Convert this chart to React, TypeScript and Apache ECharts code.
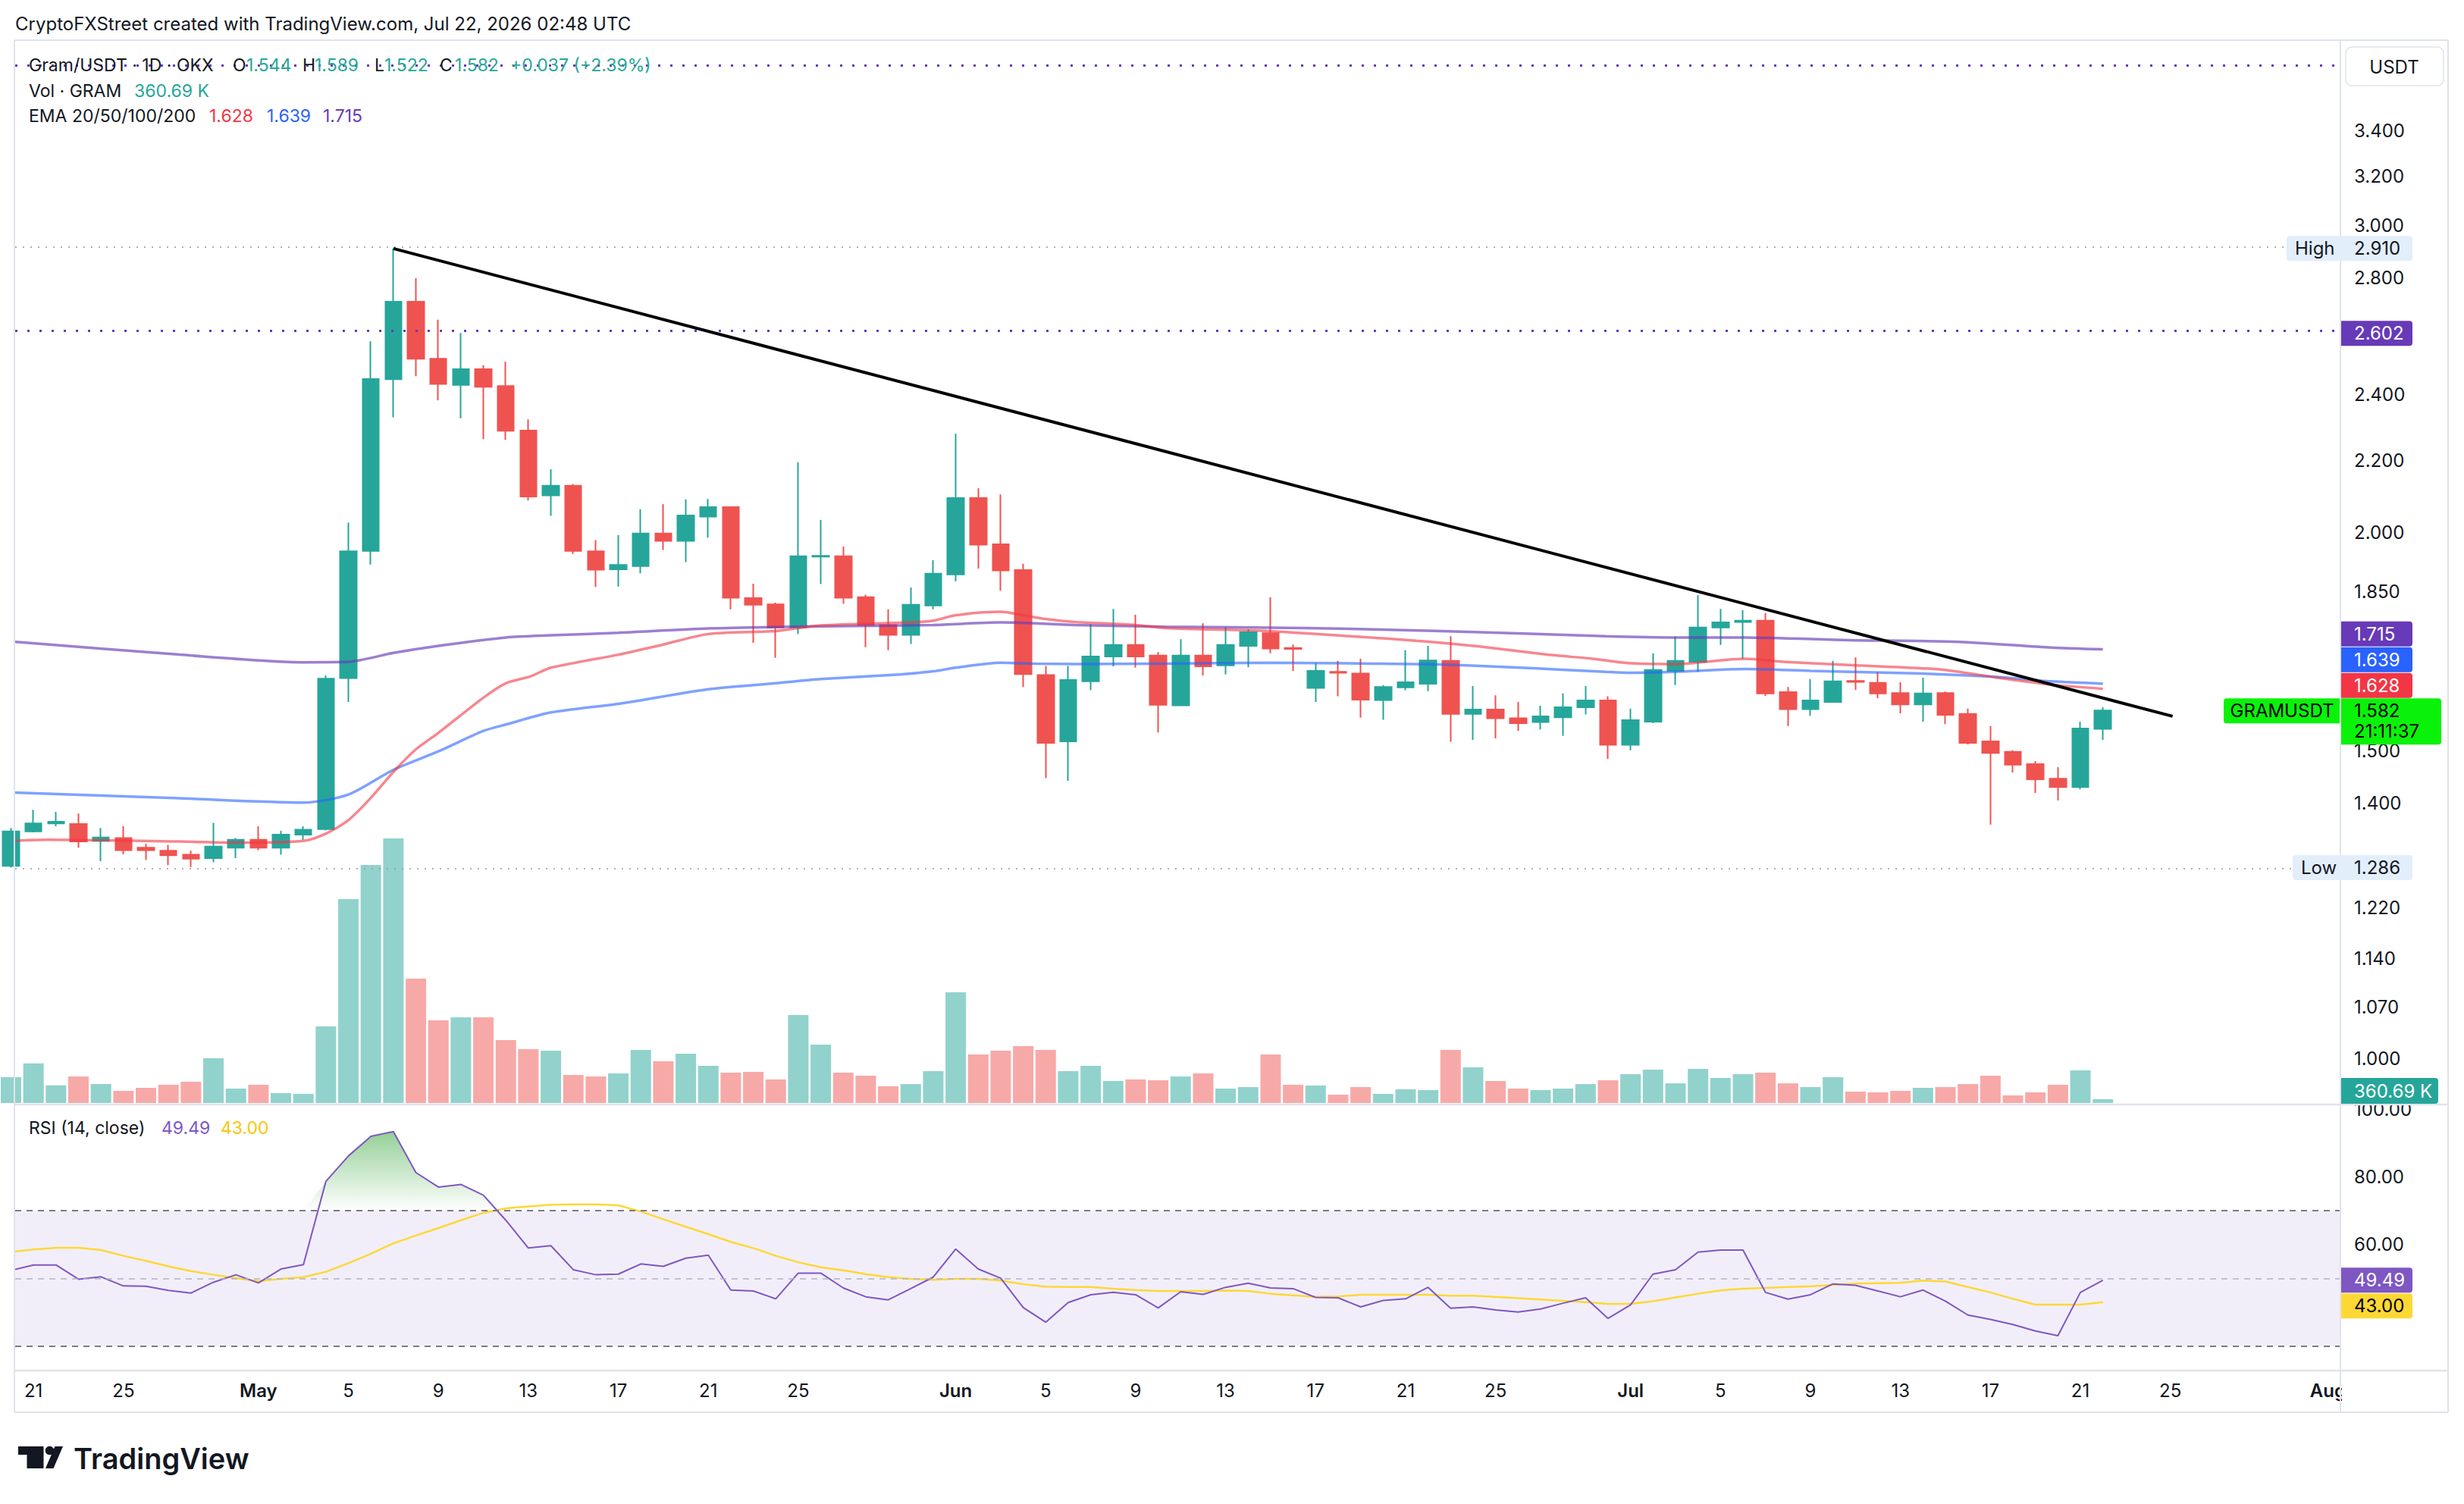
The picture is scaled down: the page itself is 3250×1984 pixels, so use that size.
import React, { useEffect, useRef } from "react";
import * as echarts from "echarts";

// ---------- DATA ----------
const startDate = "2026-04-20"; // first (partly visible) daily candle
const opens = [1.289,1.349,1.363,1.362,1.332,1.337,1.320,1.315,1.308,1.302,
1.320,1.334,1.320,1.343,1.353,1.651,1.953,2.449,2.713,2.516,
2.431,2.482,2.427,2.289,2.101,2.128,1.952,1.906,1.914,1.998,
1.979,2.043,2.069,1.835,1.820,1.765,1.938,1.939,1.837,1.771,
1.748,1.817,1.893,2.094,1.970,1.904,1.658,1.519,1.644,1.699,
1.725,1.701,1.593,1.701,1.679,1.723,1.752,1.718,1.630,1.665,
1.661,1.604,1.631,1.639,1.689,1.575,1.584,1.566,1.558,1.568,
1.589,1.603,1.512,1.559,1.667,1.687,1.765,1.778,1.781,1.621,
1.585,1.600,1.645,1.641,1.619,1.595,1.619,1.575,1.519,1.498,
1.474,1.446,1.430,1.544];
const highs = [1.355,1.388,1.384,1.381,1.355,1.358,1.327,1.325,1.315,1.364,
1.337,1.358,1.350,1.358,1.657,2.027,2.575,2.910,2.798,2.649,
2.603,2.495,2.506,2.323,2.175,2.133,1.981,1.994,2.063,2.077,
2.090,2.091,2.069,1.870,1.824,2.195,2.034,1.964,1.843,1.808,
1.861,1.929,2.279,2.121,2.104,1.920,1.678,1.678,1.773,1.809,
1.795,1.709,1.738,1.775,1.766,1.761,1.837,1.726,1.684,1.689,
1.694,1.636,1.713,1.723,1.745,1.634,1.614,1.600,1.592,1.618,
1.634,1.612,1.586,1.706,1.744,1.842,1.809,1.806,1.799,1.632,
1.649,1.689,1.697,1.664,1.642,1.652,1.622,1.586,1.550,1.501,
1.480,1.468,1.559,1.589];
const lows = [1.286,1.347,1.358,1.320,1.297,1.309,1.299,1.290,1.287,1.295,
1.302,1.316,1.308,1.334,1.351,1.600,1.918,2.329,2.459,2.382,
2.326,2.263,2.261,2.087,2.045,1.945,1.862,1.863,1.896,1.955,
1.924,1.987,1.808,1.730,1.696,1.750,1.869,1.821,1.720,1.713,
1.727,1.808,1.876,1.908,1.853,1.632,1.447,1.442,1.625,1.677,
1.674,1.537,1.593,1.657,1.659,1.675,1.706,1.667,1.600,1.612,
1.567,1.563,1.625,1.623,1.518,1.522,1.525,1.540,1.543,1.530,
1.574,1.484,1.501,1.556,1.636,1.665,1.725,1.694,1.613,1.550,
1.571,1.599,1.626,1.608,1.576,1.559,1.554,1.513,1.361,1.458,
1.419,1.405,1.426,1.522];
const closes = [1.349,1.363,1.366,1.331,1.338,1.316,1.316,1.307,1.301,1.322,
1.334,1.320,1.343,1.352,1.650,1.952,2.450,2.713,2.516,2.434,
2.482,2.425,2.288,2.098,2.128,1.953,1.905,1.917,1.998,1.979,
2.046,2.069,1.836,1.819,1.765,1.939,1.940,1.836,1.771,1.748,
1.819,1.895,2.094,1.969,1.903,1.660,1.516,1.647,1.699,1.725,
1.699,1.594,1.701,1.677,1.725,1.754,1.717,1.716,1.667,1.663,
1.605,1.632,1.642,1.690,1.575,1.584,1.566,1.556,1.570,1.589,
1.603,1.512,1.562,1.669,1.689,1.765,1.777,1.781,1.618,1.585,
1.603,1.644,1.643,1.618,1.595,1.618,1.573,1.516,1.496,1.473,
1.445,1.430,1.545,1.582];
// volume in thousands of GRAM
const volumesK = [2450,3770,1680,2520,1800,1150,1440,1730,2020,4250,
1370,1730,940,870,7280,19400,22640,25160,11820,7860,
8150,8150,5980,5120,4970,2670,2520,2810,5050,3970,
4690,3530,2880,2960,2240,8360,5550,2880,2600,1590,
1800,3030,10530,4610,4970,5410,5050,3030,3530,2090,
2240,2160,2520,2810,1370,1510,4610,1730,1660,790,
1510,870,1300,1230,5050,3390,2090,1370,1230,1370,
1800,2160,2740,3170,1870,3240,2380,2740,2880,1870,
1510,2450,1080,1010,1150,1440,1510,1800,2600,720,
1010,1730,3100,360.69];
// EMA lines: [day offset from startDate, value]
const ema20Pts = [[0,1.332],[1.6,1.334],[7.5,1.331],[10.3,1.329],[13,1.332],[14,1.345],[15,1.369],[16,1.410],[17,1.459],[18,1.503],[19,1.536],[21,1.609],[22,1.640],[23.1,1.655],[24,1.674],[27,1.703],[29,1.726],[31,1.750],[34,1.757],[36,1.770],[40,1.777],[41,1.781],[42,1.794],[44,1.802],[45,1.794],[46,1.785],[47.3,1.778],[49.8,1.772],[51.3,1.764],[55.9,1.757],[59.8,1.744],[62.9,1.733],[65.2,1.722],[68.3,1.703],[70.3,1.694],[71.9,1.684],[74,1.682],[77.1,1.694],[78.8,1.687],[81.7,1.680],[85.8,1.670],[88.2,1.653],[90.7,1.637],[93,1.628]];
const ema50Pts = [[0,1.420],[7.5,1.409],[13,1.401],[15,1.416],[17,1.463],[19,1.499],[21,1.540],[22,1.553],[24,1.578],[27,1.596],[31,1.627],[34,1.640],[36,1.649],[39.5,1.659],[41,1.666],[42,1.674],[44,1.685],[45.6,1.683],[47.3,1.682],[51.3,1.683],[55.9,1.685],[60.6,1.683],[63.6,1.681],[66.7,1.675],[70.9,1.665],[71.9,1.663],[74,1.665],[77.1,1.671],[80,1.667],[85,1.661],[88.2,1.654],[90.7,1.644],[93,1.639]];
const ema100Pts = [[0,1.733],[7.5,1.703],[13,1.686],[15,1.687],[17,1.707],[19,1.723],[22,1.742],[24,1.747],[27,1.753],[31,1.763],[36,1.768],[41,1.771],[44,1.777],[47.3,1.771],[51.3,1.767],[57.5,1.764],[63.6,1.757],[70.9,1.745],[74,1.742],[77.1,1.742],[81.7,1.736],[86.6,1.732],[90.7,1.719],[93,1.715]];
const rsiValues = [52.4,54.0,54.0,49.8,50.5,47.8,47.7,46.5,45.7,48.9,
51.1,48.7,52.8,54.1,78.7,86.2,92.0,93.4,81.3,77.0,
77.8,74.6,67.2,59.0,59.7,52.6,51.1,51.3,54.3,53.6,
56.0,56.9,46.6,46.3,44.0,51.6,51.6,47.2,44.6,43.7,
47.0,50.4,58.7,52.8,50.1,41.4,37.1,42.9,45.2,45.9,
45.2,41.3,46.1,45.3,47.4,48.6,47.2,47.0,44.4,44.3,
41.6,43.5,44.0,47.4,41.2,41.6,40.7,40.1,41.0,42.7,
44.3,38.2,42.2,51.3,52.6,57.8,58.4,58.4,45.9,43.9,
45.2,48.4,48.0,46.3,44.6,46.6,43.3,39.2,37.9,36.4,
34.5,33.1,45.9,49.49];
const rsiMaValues = [57.8,58.6,59.1,59.1,58.4,56.7,55.2,53.6,52.2,51.1,
50.1,49.2,49.9,50.4,52.0,54.5,57.3,60.4,62.7,64.9,
67.2,69.4,70.7,71.3,71.8,71.9,71.9,71.6,69.8,67.5,
65.3,63.1,60.8,59.0,56.7,54.8,53.3,52.4,51.3,50.4,
49.9,49.6,49.9,49.9,49.4,48.3,47.6,47.5,47.5,47.0,
46.6,46.3,46.3,46.3,46.4,46.3,45.5,45.0,44.6,44.7,
45.2,45.2,45.2,45.2,44.9,44.9,44.6,44.2,43.8,43.4,
43.0,42.5,42.5,43.3,44.4,45.5,46.5,47.0,47.2,47.5,
47.7,48.1,48.5,48.6,48.7,49.4,49.1,47.5,45.9,44.0,
42.3,42.3,42.3,43.0];
const trendDays = [17, 96.1];
const trendPrices = [2.91, 1.57];
const highLevel = 2.91;
const lowLevel = 1.286;
const drawnLevels = [2.602, 3.69];
const priceTicks = [3.4, 3.2, 3.0, 2.8, 2.4, 2.2, 2.0, 1.85, 1.5, 1.4, 1.22, 1.14, 1.07, 1.0];
const rsiTicks = [100, 80, 60];
const xTickDates = ["2026-04-21","2026-04-25","2026-05-01","2026-05-05","2026-05-09","2026-05-13","2026-05-17","2026-05-21","2026-05-25","2026-06-01","2026-06-05","2026-06-09","2026-06-13","2026-06-17","2026-06-21","2026-06-25","2026-07-01","2026-07-05","2026-07-09","2026-07-13","2026-07-17","2026-07-21","2026-07-25","2026-08-01"];
const monthNames = ["Jan","Feb","Mar","Apr","May","Jun","Jul","Aug","Sep","Oct","Nov","Dec"];

// ---------- STYLE / LAYOUT ----------
const FONT = 'Inter, "Noto Sans", sans-serif';
const UP = "#26a69a";
const DOWN = "#ef5350";
const TXT = "#131722";
const xMin = 0.185;
const xMax = 103.56;
const lnMin = -0.061;
const lnMax = 1.343;

const dayIdx = (d: string) => Math.round((Date.parse(d) - Date.parse(startDate)) / 86400000);
const xTickIdx = xTickDates.map(dayIdx);
const tickLabel = (v: number) => {
  const k = xTickIdx.findIndex((t) => Math.abs(t - v) < 0.01);
  if (k < 0) return "";
  const dt = new Date(Date.parse(xTickDates[k]));
  const day = dt.getUTCDate();
  return day === 1 ? "{m|" + monthNames[dt.getUTCMonth()] + "}" : String(day);
};

function buildOption() {
  const L = Math.log;
  const candleData = opens.map((o, i) => [i, L(o), L(closes[i]), L(lows[i]), L(highs[i])]);
  const volData = volumesK.map((v, i) => ({
    value: [i, v],
    itemStyle: { color: closes[i] >= opens[i] ? "rgba(38,166,154,0.5)" : "rgba(239,83,80,0.5)" },
  }));
  const emaLine = (pts: number[][], color: string) => ({
    type: "line",
    xAxisIndex: 0,
    yAxisIndex: 0,
    data: pts.map(([x, v]) => [x, L(v)]),
    showSymbol: false,
    smooth: 0.25,
    lineStyle: { color, width: 3.5 },
    z: 4,
    silent: true,
  });
  const axisFont = { fontFamily: FONT, fontSize: 24, color: TXT };
  return {
    animation: false,
    backgroundColor: "#ffffff",
    grid: [
      { left: 20, top: 53, width: 3067, height: 1404, containLabel: false, outerBoundsMode: "none" },
      { left: 20, top: 1106, width: 3067, height: 349, containLabel: false, outerBoundsMode: "none" },
      { left: 20, top: 1457, width: 3067, height: 351, containLabel: false, outerBoundsMode: "none" },
    ],
    xAxis: [0, 1, 2].map((g) => ({
      type: "value",
      gridIndex: g,
      min: xMin,
      max: xMax,
      show: g === 2,
      axisLine: { show: false },
      axisTick: { show: false },
      splitLine: { show: false },
      axisLabel: {
        show: g === 2,
        customValues: xTickIdx,
        formatter: tickLabel,
        margin: 14,
        ...axisFont,
        rich: { m: { fontFamily: FONT, fontSize: 24, fontWeight: 600, color: TXT } },
      },
    })),
    yAxis: [
      {
        type: "value",
        gridIndex: 0,
        position: "right",
        min: lnMin,
        max: lnMax,
        axisLine: { show: false },
        axisTick: { show: false },
        splitLine: { show: false },
        axisLabel: {
          customValues: priceTicks.map((p) => Math.log(p)),
          formatter: (v: number) => Math.exp(v).toFixed(3),
          margin: 18,
          align: "left",
          ...axisFont,
        },
      },
      {
        type: "value",
        gridIndex: 1,
        min: 0,
        max: Math.max(...volumesK),
        show: false,
        splitLine: { show: false },
      },
      {
        type: "value",
        gridIndex: 2,
        position: "right",
        min: 22.8,
        max: 101.4,
        axisLine: { show: false },
        axisTick: { show: false },
        splitLine: { show: false },
        axisLabel: {
          customValues: rsiTicks,
          formatter: (v: number) => v.toFixed(2),
          margin: 18,
          align: "left",
          ...axisFont,
        },
      },
    ],
    series: [
      {
        type: "bar",
        name: "Volume",
        xAxisIndex: 1,
        yAxisIndex: 1,
        data: volData,
        barWidth: 27,
        z: 1,
        silent: true,
      },
      {
        type: "candlestick",
        name: "GRAMUSDT",
        xAxisIndex: 0,
        yAxisIndex: 0,
        data: candleData,
        encode: { x: 0, y: [1, 2, 3, 4] },
        barWidth: 22,
        clip: true,
        itemStyle: { color: UP, color0: DOWN, borderColor: UP, borderColor0: DOWN, borderWidth: 2 },
        z: 3,
        silent: true,
        markLine: {
          symbol: ["none", "none"],
          silent: true,
          label: { show: false },
          data: [
            { yAxis: L(highLevel), lineStyle: { color: "#9598a1", width: 1.5, type: [2, 8] } },
            { yAxis: L(lowLevel), lineStyle: { color: "#9598a1", width: 1.5, type: [2, 8] } },
            ...drawnLevels.map((p) => ({ yAxis: L(p), lineStyle: { color: "#673ab7", width: 3, type: [3, 13] } })),
          ],
        },
      },
      emaLine(ema100Pts, "rgba(103,58,183,0.65)"),
      emaLine(ema50Pts, "rgba(41,98,255,0.6)"),
      emaLine(ema20Pts, "rgba(242,54,69,0.6)"),
      {
        type: "line",
        name: "Trendline",
        xAxisIndex: 0,
        yAxisIndex: 0,
        data: trendDays.map((d, i) => [d, L(trendPrices[i])]),
        showSymbol: false,
        lineStyle: { color: "#000000", width: 4 },
        z: 6,
        silent: true,
      },
      {
        type: "line",
        name: "RSI fill",
        xAxisIndex: 2,
        yAxisIndex: 2,
        data: rsiValues.map((v, i) => [i, Math.max(v, 70)]),
        showSymbol: false,
        lineStyle: { opacity: 0, width: 0 },
        areaStyle: {
          origin: 70,
          color: new echarts.graphic.LinearGradient(0, 0, 0, 1, [
            { offset: 0, color: "rgba(76,175,80,0.85)" },
            { offset: 1, color: "rgba(76,175,80,0)" },
          ]),
        },
        z: 2,
        silent: true,
      },
      {
        type: "line",
        name: "RSI",
        xAxisIndex: 2,
        yAxisIndex: 2,
        data: rsiValues.map((v, i) => [i, v]),
        showSymbol: false,
        lineStyle: { color: "#7e57c2", width: 2 },
        z: 4,
        silent: true,
        markArea: {
          silent: true,
          itemStyle: { color: "rgba(126,87,194,0.1)" },
          data: [[{ yAxis: 30 }, { yAxis: 70 }]],
        },
        markLine: {
          symbol: ["none", "none"],
          silent: true,
          label: { show: false },
          data: [
            { yAxis: 70, lineStyle: { color: "#787b86", width: 2, type: [8, 7] } },
            { yAxis: 50, lineStyle: { color: "#b2b5be", width: 1.5, type: [8, 7] } },
            { yAxis: 30, lineStyle: { color: "#787b86", width: 2, type: [8, 7] } },
          ],
        },
      },
      {
        type: "line",
        name: "RSI MA",
        xAxisIndex: 2,
        yAxisIndex: 2,
        data: rsiMaValues.map((v, i) => [i, v]),
        showSymbol: false,
        lineStyle: { color: "#fdd835", width: 2.5 },
        z: 3,
        silent: true,
      },
    ],
  };
}

function T(x: number, y: number, text: string, fill: string, o: any = {}) {
  const align = o.align ?? "left";
  return {
    type: "text",
    x,
    y,
    z: 110,
    silent: true,
    style: {
      text,
      fill,
      fontSize: o.size ?? 23,
      fontFamily: FONT,
      fontWeight: o.weight ?? "normal",
      textAlign: align,
      textVerticalAlign: "middle",
      align,
      verticalAlign: "middle",
    },
  };
}
function R(x: number, y: number, w: number, h: number, fill: string, o: any = {}) {
  return {
    type: "rect",
    z: o.z ?? 105,
    silent: true,
    shape: { x, y, width: w, height: h, r: o.r ?? [0, 4, 4, 0] },
    style: { fill, stroke: o.stroke, lineWidth: o.lw ?? 0 },
  };
}
function Ln(x1: number, y1: number, x2: number, y2: number, w = 2) {
  return { type: "line", z: 100, silent: true, shape: { x1, y1, x2, y2 }, style: { stroke: "#e0e3eb", lineWidth: w } };
}

function buildGraphics(py: (p: number) => number, ry: (v: number) => number) {
  const BH = 33;
  const AX = 3088;
  const LX = 3105;
  const last = closes[closes.length - 1];
  const lastC = py(last);
  const lastChg = last - closes[closes.length - 2];
  const els: any[] = [];
  // frame & separators
  els.push(R(3089, 1810, 139, 52, "#ffffff", { z: 99, r: 0 }));
  els.push(Ln(19, 53, 3229, 53), Ln(19, 53, 19, 1863), Ln(3229, 53, 3229, 1863), Ln(19, 1863, 3229, 1863));
  els.push(Ln(3087, 53, 3087, 1863), Ln(19, 1457, 3229, 1457, 2.5), Ln(19, 1808, 3229, 1808, 2.5));
  // header
  els.push(T(20, 31, "CryptoFXStreet created with TradingView.com, Jul 22, 2026 02:48 UTC", TXT, { size: 24 }));
  // legends
  els.push(T(38, 86, "Gram/USDT · 1D · OKX", TXT));
  els.push(T(307, 86, "O", TXT), T(325, 86, opens[opens.length - 1].toFixed(3), UP));
  els.push(T(399, 86, "H", TXT), T(415, 86, highs[highs.length - 1].toFixed(3), UP));
  els.push(T(494, 86, "L", TXT), T(507, 86, lows[lows.length - 1].toFixed(3), UP));
  els.push(T(580, 86, "C", TXT), T(600, 86, last.toFixed(3), UP));
  els.push(T(673, 86, "+" + lastChg.toFixed(3) + " (+" + ((lastChg / closes[closes.length - 2]) * 100).toFixed(2) + "%)", UP));
  els.push(T(38, 120, "Vol · GRAM", TXT), T(177, 120, "360.69 K", UP));
  els.push(T(38, 153, "EMA 20/50/100/200", TXT));
  els.push(T(276, 153, "1.628", "#f23645"), T(352, 153, "1.639", "#2962ff"), T(426, 153, "1.715", "#673ab7"));
  els.push(T(38, 1488, "RSI (14, close)", TXT));
  els.push(T(213, 1488, rsiValues[rsiValues.length - 1].toFixed(2), "#7e57c2"));
  els.push(T(291, 1488, rsiMaValues[rsiMaValues.length - 1].toFixed(2), "#f9c60c"));
  // USDT box
  els.push(R(3094, 62, 129, 51, "#ffffff", { stroke: "#e0e3eb", lw: 1.5, r: 8 }));
  els.push(T(3158, 88, "USDT", TXT, { align: "center", size: 24 }));
  // High / Low
  const hy = py(highLevel);
  els.push(R(3016, hy - BH / 2, 166, BH, "#e3eefb", { r: 4 }));
  els.push(T(3027, hy, "High", TXT, { size: 24 }), T(LX, hy, highLevel.toFixed(3), TXT, { size: 24 }));
  const ly = py(lowLevel);
  els.push(R(3024, ly - BH / 2, 158, BH, "#e3eefb", { r: 4 }));
  els.push(T(3035, ly, "Low", TXT, { size: 24 }), T(LX, ly, lowLevel.toFixed(3), TXT, { size: 24 }));
  // drawn level 2.602
  const dy = py(drawnLevels[0]);
  els.push(R(AX, dy - BH / 2, 94, BH, "#673ab7"));
  els.push(T(LX, dy, drawnLevels[0].toFixed(3), "#ffffff", { size: 24 }));
  // EMA boxes stacked above last price
  const emaBoxes = [
    { v: "1.628", c: "#f23645", off: 33 },
    { v: "1.639", c: "#2962ff", off: 67 },
    { v: "1.715", c: "#673ab7", off: 101 },
  ];
  emaBoxes.forEach((b) => {
    const cy = lastC - b.off;
    els.push(R(AX, cy - BH / 2, 94, BH, b.c));
    els.push(T(LX, cy, b.v, "#ffffff", { size: 24 }));
  });
  // last price box
  els.push(R(AX, lastC - 16, 132, 61, "#0af20a"));
  els.push(T(LX, lastC, last.toFixed(3), "#000000", { size: 24 }));
  els.push(T(LX, lastC + 27, "21:11:37", "#000000", { size: 24 }));
  els.push(R(2933, lastC - 16, 153, BH, "#0af20a", { r: [4, 0, 0, 4] }));
  els.push(T(3010, lastC + 0.5, "GRAMUSDT", "#000000", { size: 24, align: "center" }));
  // volume box
  els.push(R(AX, 1422, 128, 34, UP));
  els.push(T(LX, 1439, "360.69 K", "#ffffff", { size: 24 }));
  // RSI boxes
  const r1 = ry(rsiValues[rsiValues.length - 1]);
  els.push(R(AX, r1 - BH / 2, 94, BH, "#7e57c2"));
  els.push(T(LX, r1, rsiValues[rsiValues.length - 1].toFixed(2), "#ffffff", { size: 24 }));
  const r2 = r1 + 34;
  els.push(R(AX, r2 - BH / 2, 94, BH, "#fdd835"));
  els.push(T(LX, r2, rsiMaValues[rsiMaValues.length - 1].toFixed(2), "#000000", { size: 24 }));
  // TradingView logo
  els.push({ type: "polygon", z: 110, silent: true, shape: { points: [[24, 1908], [57.5, 1908], [57.5, 1937], [35.5, 1937], [35.5, 1919], [24, 1919]] }, style: { fill: TXT } });
  els.push({ type: "circle", z: 110, silent: true, shape: { cx: 65.5, cy: 1913.5, r: 5.8 }, style: { fill: TXT } });
  els.push({ type: "polygon", z: 110, silent: true, shape: { points: [[72.5, 1908], [83, 1908], [70.5, 1937], [60, 1937]] }, style: { fill: TXT } });
  els.push(T(97, 1924, "TradingView", TXT, { size: 38, weight: 600 }));
  return els;
}

export default function App() {
  const ref = useRef<HTMLDivElement>(null);
  useEffect(() => {
    if (!ref.current) return;
    const chart = echarts.init(ref.current, null, { renderer: "svg" });
    chart.setOption(buildOption() as any);
    const py = (p: number) => chart.convertToPixel({ yAxisIndex: 0 } as any, Math.log(p)) as unknown as number;
    const ry = (v: number) => chart.convertToPixel({ yAxisIndex: 2 } as any, v) as unknown as number;
    chart.setOption({ graphic: buildGraphics(py, ry) } as any);
    return () => chart.dispose();
  }, []);
  return (
    <div
      ref={ref}
      style={{ position: "fixed", left: 0, top: 0, width: 3250, height: 1984, background: "#ffffff" }}
    />
  );
}
